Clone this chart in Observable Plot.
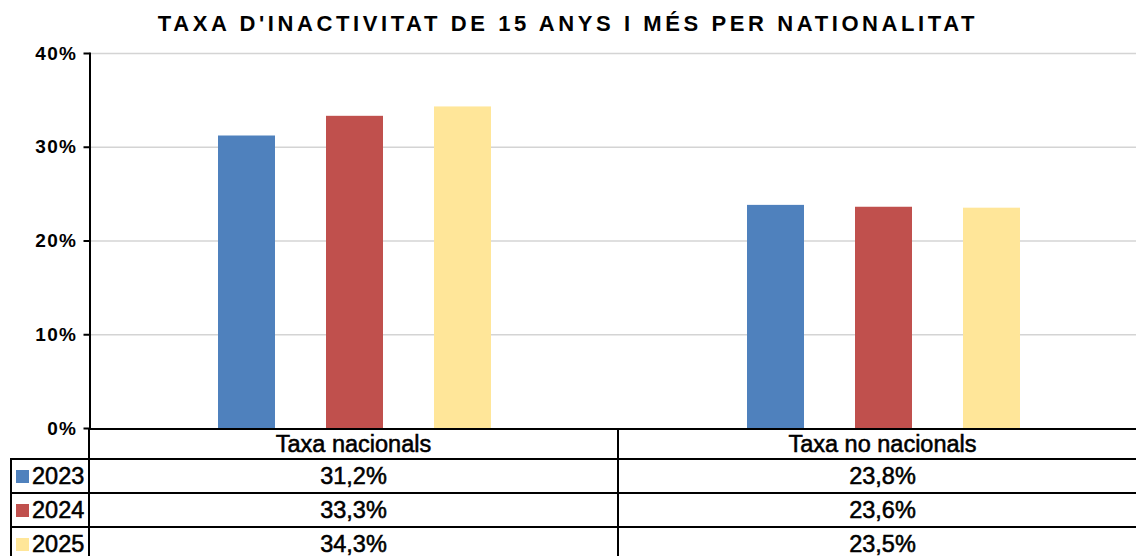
<!DOCTYPE html>
<html>
<head>
<meta charset="utf-8">
<script src="https://cdn.jsdelivr.net/npm/d3@7"></script>
<script src="https://cdn.jsdelivr.net/npm/@observablehq/plot@0.6"></script>
<style>
  html, body { margin: 0; padding: 0; background: #fff; width: 1136px; height: 556px; overflow: hidden; }
  #wrap { position: relative; width: 1136px; height: 556px; overflow: hidden; font-family: "Liberation Sans", Arial, sans-serif; color: #000; }
  #title { position: absolute; left: 0px; top: 11px; width: 1136px; text-align: center; font-weight: bold; font-size: 22px; letter-spacing: 3.6px; white-space: nowrap; }
  #chart { position: absolute; left: 0; top: 40px; }
  #chart svg { overflow: visible; }
  #tbl { position: absolute; left: 10px; top: 428px; display: grid; grid-template-columns: 80px 529px 529px; grid-template-rows: 32px 34px 34px 34px; }
  #tbl div { box-sizing: border-box; border-right: 2px solid #000; border-bottom: 2px solid #000; display: flex; align-items: center; justify-content: center; font-size: 23.5px; -webkit-text-stroke: 0.55px #000; white-space: nowrap; }
  #tbl div.head { border-top: 2px solid #000; }
  #tbl div.corner { border-top: none; }
  #tbl div.year { border-left: 2px solid #000; justify-content: flex-start; padding-left: 4px; }
  #tbl .sw { display: inline-block; width: 13px; height: 13px; margin-right: 3px; -webkit-text-stroke: 0; }
</style>
</head>
<body>
<div id="wrap">
  <div id="title">TAXA D'INACTIVITAT DE 15 ANYS I MÉS PER NATIONALITAT</div>
  <div id="chart"></div>
  <div id="tbl"></div>
</div>
<script>
const categories = ["Taxa nacionals", "Taxa no nacionals"];
const years = ["2023", "2024", "2025"];
const values2023 = [31.2, 23.8];
const values2024 = [33.3, 23.6];
const values2025 = [34.3, 23.5];
const colors = ["#4F81BD", "#C0504D", "#FFE699"];
const yTicks = [0, 10, 20, 30, 40];

const series = [values2023, values2024, values2025];
const data = years.flatMap((yr, i) => categories.map((c, j) => ({ year: yr, category: c, value: series[i][j] })));
const offsets = [-108, 0, 108];

const chart = Plot.plot({
  width: 1136,
  height: 390,
  marginTop: 13,
  marginBottom: 2,
  marginLeft: 89.5,
  marginRight: 0,
  style: { fontFamily: "'Liberation Sans', Arial, sans-serif", fontSize: "19px", fontWeight: "bold", color: "#000", background: "transparent", letterSpacing: "1.2px" },
  x: { domain: categories, range: [89.5, 1147.5], padding: 0, axis: null },
  y: { domain: [0, 40], label: null },
  color: { domain: years, range: colors },
  marks: [
    Plot.gridY(yTicks.filter(d => d > 0), { stroke: "#D4D4D4", strokeOpacity: 1, strokeWidth: 1.5 }),
    ...years.map((yr, i) => Plot.barY(data.filter(d => d.year === yr), {
      x: "category", y: "value", fill: "year", dx: offsets[i], insetLeft: 236, insetRight: 236
    })),
    Plot.axisY(yTicks, { tickSize: 6, tickPadding: 7, tickFormat: d => d + "%", fontSize: 19, fontWeight: "bold", strokeWidth: 2, label: null }),
    Plot.frame({ anchor: "left", strokeWidth: 2 })
  ]
});
document.getElementById("chart").appendChild(chart);

// data table (legend)
const tbl = document.getElementById("tbl");
const fmt = v => v.toFixed(1).replace(".", ",") + "%";
function cell(cls, html) { const d = document.createElement("div"); if (cls) d.className = cls; d.innerHTML = html; tbl.appendChild(d); }
cell("head corner", "");
categories.forEach(c => cell("head", c));
years.forEach((yr, i) => {
  cell("year", `<span class="sw" style="background:${colors[i]}"></span>${yr}`);
  series[i].forEach(v => cell("", fmt(v)));
});
</script>
</body>
</html>
